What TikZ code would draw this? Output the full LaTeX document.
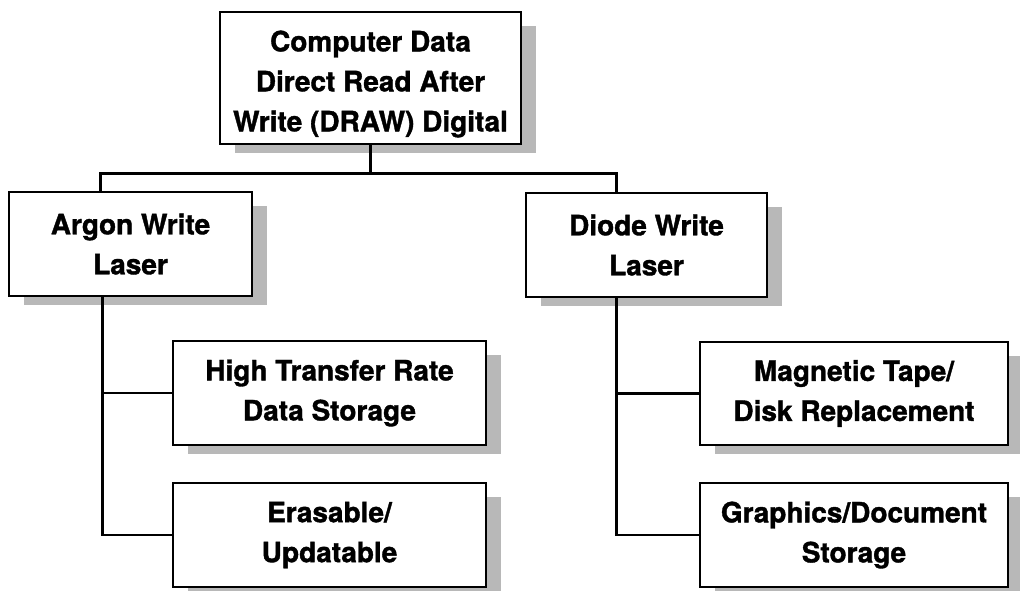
\documentclass[tikz,border=0pt]{standalone}
\usepackage{fontspec}
\setmainfont{TeX Gyre Heros}[BoldFeatures={FakeBold=1.3}]
\begin{document}
\begin{tikzpicture}[x=1pt,y=-1pt,
  box/.style={draw=black,line width=2.8pt,fill=white,inner sep=0pt},
  label/.style={align=center,inner sep=0pt,
    font=\fontsize{28}{40}\selectfont\bfseries},
  link/.style={draw=black,line width=2.8pt},
  shade/.style={fill=black!28}]
\useasboundingbox (0,0) rectangle (1020,590);
\newcommand{\shbox}[6]{%
  \fill[shade] (#2-#4/2+15,#3-#5/2+14) rectangle (#2+#4/2+15,#3+#5/2+9);
  \node[box,minimum width=#4,minimum height=#5] (#1) at (#2,#3) {};
  \node[label] (#1-t) at ([yshift=-#6]#1.center) {\mytext};}
\def\mytext{Computer Data\\Direct Read After\\Write (DRAW) Digital}
\shbox{top}{370.5}{78}{301}{132}{6}
\def\mytext{Argon Write\\Laser}
\shbox{argon}{130.5}{244}{243}{104}{0}
\def\mytext{Diode Write\\Laser}
\shbox{diode}{646.5}{245}{241}{104}{0}
\def\mytext{High Transfer Rate\\Data Storage}
\shbox{high}{329.5}{393}{313}{104}{0}
\def\mytext{Erasable/\\Updatable}
\shbox{eras}{329.5}{535}{313}{104}{0}
\def\mytext{Magnetic Tape/\\Disk Replacement}
\shbox{mag}{854}{393.5}{308}{103}{0}
\def\mytext{Graphics/Document\\Storage}
\shbox{graph}{854}{535}{308}{104}{0}
\coordinate (bus) at ([yshift=-28]top.south);
\draw[link] (top.south) -- (bus);
\draw[link] ([xshift=-30]argon.north) |- (bus) -| ([xshift=-30]diode.north);
\coordinate (atr) at ([xshift=-28]argon.south);
\draw[link] (atr) |- (eras.west);
\draw[link] (high.west) -- (high.west -| atr);
\coordinate (dtr) at ([xshift=-30]diode.south);
\draw[link] (dtr) |- (graph.west);
\draw[link] (mag.west) -- (mag.west -| dtr);
\end{tikzpicture}
\end{document}
